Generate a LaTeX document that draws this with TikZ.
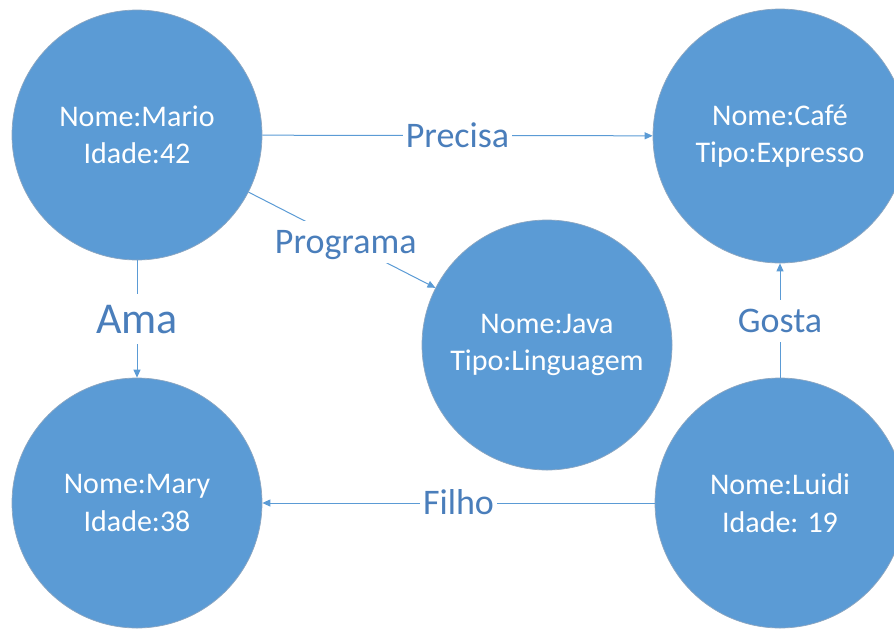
\documentclass[tikz,border=0pt]{standalone}
\usepackage{fontspec}
\setmainfont{Carlito}
\usetikzlibrary{arrows.meta}
\definecolor{nodeblue}{HTML}{5B9BD5}
\definecolor{rimblue}{HTML}{8DA6C0}
\definecolor{labelblue}{HTML}{4A7EBB}
\tikzset{
  entity/.style={circle, fill=nodeblue, draw=rimblue, line width=0.7pt,
    minimum size=250pt, inner sep=0pt, align=center, text=white,
    font=\fontsize{30}{37.5}\selectfont},
  rel/.style={draw=nodeblue, line width=1pt,
    -{Triangle[length=8pt,width=7pt]}},
  lbl/.style={fill=white, text=labelblue, inner sep=3pt,
    text height=29.5pt, text depth=6.5pt,
    font=\fontsize{36}{40}\selectfont},
  biglbl/.style={lbl, text height=36pt, text depth=8pt,
    font=\fontsize{44}{48}\selectfont}
}
\begin{document}
\begin{tikzpicture}[x=1pt,y=-1pt]
\useasboundingbox (0,0) rectangle (894,630);
\clip (0,0) rectangle (894,630);

% entities
\node[entity] (mario) at (137,135) {Nome:Mario\\Idade:42};
\node[entity, minimum size=254pt] (cafe) at (780,136) {Nome:Café\\Tipo:Expresso};
\node[entity] (java) at (547,345) {Nome:Java\\Tipo:Linguagem};
\node[entity] (mary) at (137,503) {Nome:Mary\\Idade:38};
\node[entity] (luidi) at (780,503) {Nome:Luidi\\Idade: 19};

% relations
\draw[rel] (mario) -- node[lbl] {Precisa} (cafe);
\draw[rel] (mario) -- node[lbl, pos=0.52] {Programa} (java);
\draw[rel] (mario) -- node[biglbl] {Ama} (mary);
\draw[rel] (luidi) -- node[lbl] {Gosta} (cafe);
\draw[rel] (luidi) -- node[lbl] {Filho} (mary);
\end{tikzpicture}
\end{document}
